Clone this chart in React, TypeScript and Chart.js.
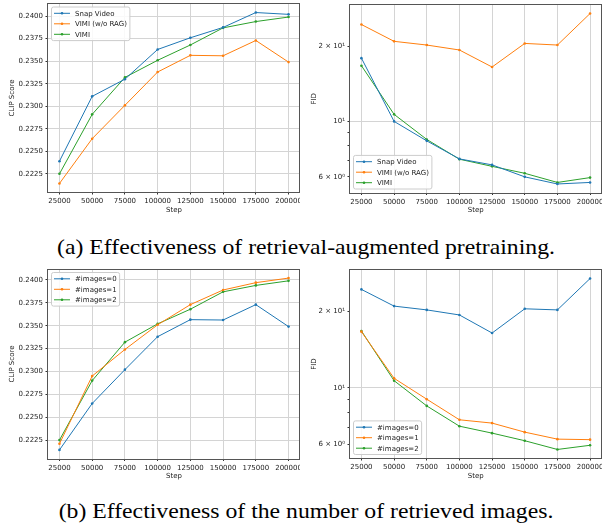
import React, { useEffect, useRef } from "react";
import { Chart, registerables } from "chart.js";

Chart.register(...registerables);
Chart.defaults.font.family = '"DejaVu Sans", sans-serif';
Chart.defaults.font.size = 7;
Chart.defaults.color = "#222";

// ---------- data ----------
const steps = [25000, 50000, 75000, 100000, 125000, 150000, 175000, 200000];
const xTicks = [25000, 50000, 75000, 100000, 125000, 150000, 175000, 200000];
const clipTicks = [0.2225, 0.225, 0.2275, 0.23, 0.2325, 0.235, 0.2375, 0.24];
const fidTicks = [6, 7, 8, 9, 10, 20];
const fidTickLabels: Record<number, string> = { 6: "6 × 10⁰", 10: "10¹", 20: "2 × 10¹" };

const clipSnapVideo = [0.2239, 0.2311, 0.233, 0.2363, 0.2376, 0.23875, 0.2404, 0.2402];
const clipNoRag = [0.22143, 0.2264, 0.2301, 0.2338, 0.23565, 0.2356, 0.2373, 0.2349];
const clipVimi = [0.2225, 0.2291, 0.2332, 0.2351, 0.2368, 0.2387, 0.2394, 0.2399];

const fidSnapVideo = [17.9, 10.0, 8.36, 7.08, 6.7, 6.0, 5.62, 5.7];
const fidNoRag = [24.4, 20.9, 20.2, 19.3, 16.5, 20.5, 20.2, 27.0];
const fidVimi = [16.7, 10.67, 8.47, 7.06, 6.61, 6.2, 5.7, 5.96];

const clipImages0 = [0.22143, 0.2265, 0.2302, 0.2338, 0.23566, 0.23562, 0.2373, 0.2349];
const clipImages1 = [0.2221, 0.2295, 0.2324, 0.2351, 0.2373, 0.2389, 0.2397, 0.2402];
const clipImages2 = [0.2225, 0.229, 0.2332, 0.2352, 0.2368, 0.2387, 0.2394, 0.2399];

const fidImages0 = [24.3, 20.9, 20.2, 19.3, 16.4, 20.4, 20.2, 26.8];
const fidImages1 = [16.6, 10.9, 9.03, 7.5, 7.28, 6.71, 6.3, 6.27];
const fidImages2 = [16.7, 10.67, 8.5, 7.08, 6.65, 6.21, 5.74, 5.96];

const BLUE = "#1f77b4";
const ORANGE = "#ff7f0e";
const GREEN = "#2ca02c";
const GRID = "#d4d4d4";

type Series = { label: string; data: number[]; color: string };
type Area = { left: number; top: number; right: number; bottom: number };
type PanelProps = {
  left: number;
  top: number;
  width: number;
  height: number;
  area: Area;
  series: Series[];
  log: boolean;
  yTitle: string;
  yTitleX: number;
  legendPos: "upper" | "lower";
};

function Panel(p: PanelProps) {
  const ref = useRef<HTMLCanvasElement>(null);
  const W = p.width + 40;
  const H = p.height;
  useEffect(() => {
    const canvas = ref.current!;
    const a = p.area;
    const all = p.series.flatMap((s) => s.data);
    let ymin: number, ymax: number;
    if (p.log) {
      const lo = Math.log10(Math.min(...all));
      const hi = Math.log10(Math.max(...all));
      const m = (hi - lo) * 0.05;
      ymin = Math.pow(10, lo - m);
      ymax = Math.pow(10, hi + m);
    } else {
      const lo = Math.min(...all);
      const hi = Math.max(...all);
      const m = (hi - lo) * 0.05;
      ymin = lo - m;
      ymax = hi + m;
    }
    const xlo = Math.min(...steps);
    const xhi = Math.max(...steps);
    const xm = (xhi - xlo) * 0.05;

    const framePlugin = {
      id: "frame",
      afterDatasetsDraw(chart: any) {
        const { ctx, chartArea: c } = chart;
        ctx.save();
        ctx.strokeStyle = "#555";
        ctx.lineWidth = 1;
        const l = Math.round(c.left) - 0.5;
        const t = Math.round(c.top) - 0.5;
        const r = Math.round(c.right) - 0.5;
        const b = Math.round(c.bottom) + 0.5;
        ctx.strokeRect(l, t, r - l, b - t);
        ctx.restore();
      },
    };

    const legendPlugin = {
      id: "customLegend",
      afterDraw(chart: any) {
        const { ctx, chartArea: c } = chart;
        ctx.save();
        ctx.font = '7px "DejaVu Sans", sans-serif';
        const labels = p.series.map((s) => s.label);
        const tw = Math.max(...labels.map((l) => ctx.measureText(l).width));
        const bw = 23.5 + tw + 3;
        const n = labels.length;
        const pitch = 10.5;
        const bh = 12.6 + (n - 1) * pitch;
        const bx = c.left + 3.5;
        const by = p.legendPos === "upper" ? c.top + 3 : c.bottom - 3.5 - bh;
        ctx.beginPath();
        (ctx as any).roundRect(bx, by, bw, bh, 2);
        ctx.fillStyle = "rgba(255,255,255,0.85)";
        ctx.fill();
        ctx.strokeStyle = "#cccccc";
        ctx.lineWidth = 1;
        ctx.stroke();
        p.series.forEach((s, i) => {
          const y = by + 6.3 + i * pitch;
          ctx.strokeStyle = s.color;
          ctx.lineWidth = 1;
          ctx.beginPath();
          ctx.moveTo(bx + 2.5, y);
          ctx.lineTo(bx + 18.5, y);
          ctx.stroke();
          ctx.fillStyle = s.color;
          ctx.beginPath();
          ctx.arc(bx + 10.5, y, 1.3, 0, Math.PI * 2);
          ctx.fill();
          ctx.fillStyle = "#222";
          ctx.textBaseline = "middle";
          ctx.textAlign = "left";
          ctx.fillText(s.label, bx + 23.5, y + 0.5);
        });
        ctx.restore();
      },
    };

    const yTicks = p.log ? fidTicks : clipTicks;

    const chart = new Chart(canvas, {
      type: "line",
      data: {
        datasets: p.series.map((s) => ({
          label: s.label,
          data: steps.map((x, i) => ({ x, y: s.data[i] })),
          borderColor: s.color,
          backgroundColor: s.color,
          borderWidth: 1,
          pointRadius: 1.3,
          pointHoverRadius: 1.3,
          pointBorderWidth: 0,
          pointBackgroundColor: s.color,
          tension: 0,
          fill: false,
        })),
      },
      options: {
        responsive: false,
        animation: false,
        devicePixelRatio: 1,
        events: [],
        layout: { padding: { left: 0, top: a.top, right: W - a.right, bottom: 0 } },
        plugins: { legend: { display: false }, tooltip: { enabled: false } },
        scales: {
          x: {
            type: "linear",
            min: xlo - xm,
            max: xhi + xm,
            bounds: "data",
            afterBuildTicks: (s: any) => {
              s.ticks = xTicks.map((v) => ({ value: v }));
            },
            afterFit: (s: any) => {
              s.height = H - a.bottom;
              s.paddingLeft = 0;
              s.paddingRight = 0;
            },
            ticks: {
              autoSkip: false,
              maxRotation: 0,
              minRotation: 0,
              padding: 2.5,
              color: "#222",
              callback: (v: any) => String(v),
            },
            grid: { color: GRID, lineWidth: 1, drawTicks: true, tickLength: 2.5, tickColor: "#333" },
            border: { display: false },
            title: {
              display: true,
              text: "Step",
              color: "#222",
              font: { size: 7 },
              padding: { top: 0, bottom: H - a.bottom - 22.2 },
            },
          },
          y: {
            type: p.log ? "logarithmic" : "linear",
            min: ymin,
            max: ymax,
            bounds: "data",
            afterBuildTicks: (s: any) => {
              s.ticks = yTicks.map((v) => ({ value: v }));
            },
            afterFit: (s: any) => {
              s.width = a.left;
              s.paddingTop = 0;
              s.paddingBottom = 0;
            },
            ticks: {
              autoSkip: false,
              padding: 2.5,
              color: "#222",
              callback: (v: any) => (p.log ? fidTickLabels[Math.round(Number(v))] || "" : Number(v).toFixed(4)),
            },
            grid: {
              color: (ctx: any) => (!p.log || (ctx.tick && ctx.tick.value === 10) ? GRID : "rgba(0,0,0,0)"),
              lineWidth: 1,
              drawTicks: true,
              tickLength: 2.5,
              tickColor: "#333",
            },
            border: { display: false },
            title: {
              display: true,
              text: p.yTitle,
              color: "#222",
              font: { size: 7 },
              padding: { top: p.yTitleX - 4.2, bottom: 0 },
            },
          },
        },
      } as any,
      plugins: [framePlugin, legendPlugin],
    });
    return () => chart.destroy();
  }, []);
  return (
    <div
      style={{
        position: "absolute",
        left: p.left,
        top: p.top,
        width: p.width,
        height: p.height,
        overflow: "hidden",
      }}
    >
      <canvas ref={ref} width={W} height={H} style={{ display: "block", width: W, height: H }} />
    </div>
  );
}

const captionStyle: React.CSSProperties = {
  position: "absolute",
  left: 5,
  width: 602,
  textAlign: "center",
  fontFamily: '"Liberation Serif", "Times New Roman", serif',
  fontSize: 21,
  lineHeight: "22px",
  color: "#000",
  whiteSpace: "nowrap",
  transform: "scaleX(1.129)",
  transformOrigin: "center",
};

export default function App() {
  return (
    <div
      style={{
        position: "absolute",
        left: 0,
        top: 0,
        width: 602,
        height: 526,
        background: "#fff",
        overflow: "hidden",
      }}
    >
      <Panel
        left={0}
        top={0}
        width={300}
        height={225}
        area={{ left: 48, top: 4, right: 300, bottom: 192 }}
        series={[
          { label: "Snap Video", data: clipSnapVideo, color: BLUE },
          { label: "VIMI (w/o RAG)", data: clipNoRag, color: ORANGE },
          { label: "VIMI", data: clipVimi, color: GREEN },
        ]}
        log={false}
        yTitle="CLIP Score"
        yTitleX={11.7}
        legendPos="upper"
      />
      <Panel
        left={300}
        top={0}
        width={302}
        height={225}
        area={{ left: 50, top: 5, right: 301.5, bottom: 192.5 }}
        series={[
          { label: "Snap Video", data: fidSnapVideo, color: BLUE },
          { label: "VIMI (w/o RAG)", data: fidNoRag, color: ORANGE },
          { label: "VIMI", data: fidVimi, color: GREEN },
        ]}
        log={true}
        yTitle="FID"
        yTitleX={14}
        legendPos="lower"
      />
      <div style={{ ...captionStyle, top: 236 }}>(a) Effectiveness of retrieval-augmented pretraining.</div>
      <Panel
        left={0}
        top={260}
        width={300}
        height={225}
        area={{ left: 48, top: 9.5, right: 300, bottom: 198.5 }}
        series={[
          { label: "#images=0", data: clipImages0, color: BLUE },
          { label: "#images=1", data: clipImages1, color: ORANGE },
          { label: "#images=2", data: clipImages2, color: GREEN },
        ]}
        log={false}
        yTitle="CLIP Score"
        yTitleX={11.7}
        legendPos="upper"
      />
      <Panel
        left={300}
        top={260}
        width={302}
        height={225}
        area={{ left: 50, top: 10, right: 301.5, bottom: 198 }}
        series={[
          { label: "#images=0", data: fidImages0, color: BLUE },
          { label: "#images=1", data: fidImages1, color: ORANGE },
          { label: "#images=2", data: fidImages2, color: GREEN },
        ]}
        log={true}
        yTitle="FID"
        yTitleX={14}
        legendPos="lower"
      />
      <div style={{ ...captionStyle, top: 500 }}>(b) Effectiveness of the number of retrieved images.</div>
    </div>
  );
}
